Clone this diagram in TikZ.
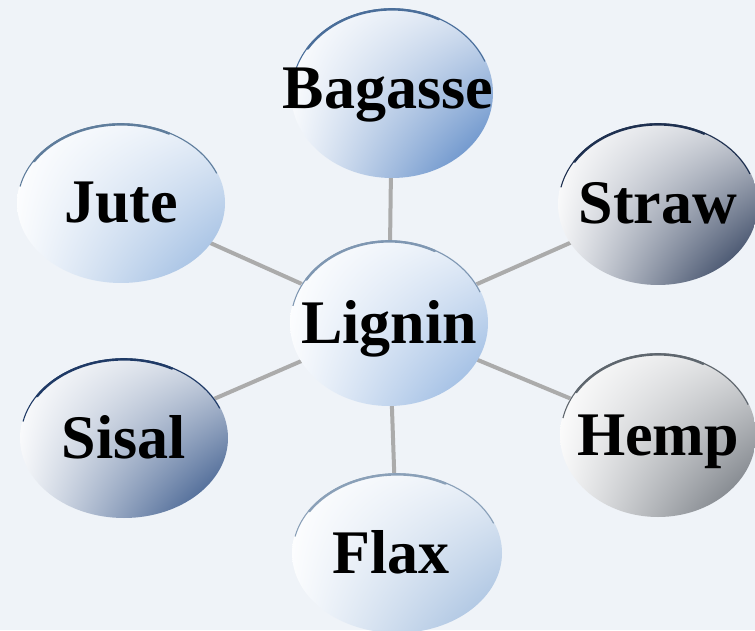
\documentclass[tikz,border=0pt]{standalone}
\usepackage{fontspec}
\setmainfont{Liberation Serif}
\usetikzlibrary{shapes.geometric,backgrounds,shadings}
\pgfdeclarelayer{bgfill}
\pgfsetlayers{bgfill,background,main}
\definecolor{bgc}{HTML}{EFF3F8}
\definecolor{linec}{HTML}{ABABAB}
\definecolor{cbag}{HTML}{4A7CC0}
\definecolor{rbag}{HTML}{4A6E9A}
\definecolor{clig}{HTML}{8CB0DE}
\definecolor{rlig}{HTML}{7F97B2}
\definecolor{cjut}{HTML}{92B4DE}
\definecolor{rjut}{HTML}{5F7D9C}
\definecolor{cstr}{HTML}{18294A}
\definecolor{rstr}{HTML}{1E3050}
\definecolor{csis}{HTML}{23467E}
\definecolor{rsis}{HTML}{1F3A66}
\definecolor{chem}{HTML}{646A72}
\definecolor{rhem}{HTML}{5E666E}
\definecolor{cfla}{HTML}{9CB9DC}
\definecolor{rfla}{HTML}{8AA0B8}
\tikzset{
  fibre/.style={ellipse, inner sep=0pt, outer sep=0pt,
    upper left=white, upper right=#1!22!white, lower left=#1!6!white, lower right=#1},
  word/.style={anchor=base, inner sep=0pt, font=\bfseries\fontsize{62}{62}\selectfont},
  conn/.style={draw=linec, line width=4pt},
  rimthin/.style={line width=1.1pt},
  rimthick/.style={line width=2.4pt, line cap=round},
}
\begin{document}
\begin{tikzpicture}[x=1pt,y=1pt]
\useasboundingbox (0,0) rectangle (755,630);
\begin{pgfonlayer}{bgfill}
\fill[bgc] (0,0) rectangle (755,630);
\end{pgfonlayer}
\node[fibre=clig, minimum width=198pt, minimum height=166pt] (lig) at (389,307) {};
\node[fibre=cbag, minimum width=202pt, minimum height=170pt] (bag) at (392,537) {};
\node[fibre=cjut, minimum width=208pt, minimum height=160pt] (jut) at (121,427) {};
\node[fibre=cstr, minimum width=200pt, minimum height=162pt] (str) at (658,426) {};
\node[fibre=csis, minimum width=208pt, minimum height=160pt] (sis) at (124,192) {};
\node[fibre=chem, minimum width=196pt, minimum height=164pt] (hem) at (658,195) {};
\node[fibre=cfla, minimum width=210pt, minimum height=160pt] (fla) at (397,77) {};
\begin{pgfonlayer}{background}
\draw[conn] (lig.center) -- (bag.center);
\draw[conn] (lig.center) -- (jut.center);
\draw[conn] (lig.center) -- (str.center);
\draw[conn] (lig.center) -- (sis.center);
\draw[conn] (lig.center) -- (hem.center);
\draw[conn] (lig.center) -- (fla.center);
\end{pgfonlayer}
% rims
\foreach \n/\rx/\ry/\c in {lig/99/83/rlig, bag/101/85/rbag, jut/104/80/rjut, str/100/81/rstr, sis/104/80/rsis, hem/98/82/rhem, fla/105/80/rfla}{
  \draw[rimthin, draw=\c] (\n.center) ++(168:\rx-0.8 and \ry-0.8) arc (168:22:\rx-0.8 and \ry-0.8);
  \draw[rimthick, draw=\c] (\n.center) ++(148:\rx-1.4 and \ry-1.4) arc (148:62:\rx-1.4 and \ry-1.4);
}
% words
\node[word] (ligT) at ([yshift=-20pt]lig.center) {Lignin};
\node[word] (bagT) at ([xshift=-4pt,yshift=-16pt]bag.center) {Bagasse};
\node[word] (jutT) at ([yshift=-20pt]jut.center) {Jute};
\node[word] (strT) at ([yshift=-20pt]str.center) {Straw};
\node[word] (sisT) at ([yshift=-20pt]sis.center) {Sisal};
\node[word] (hemT) at ([yshift=-20pt]hem.center) {Hemp};
\node[word] (flaT) at ([xshift=-6pt,yshift=-20pt]fla.center) {Flax};
\end{tikzpicture}
\end{document}
